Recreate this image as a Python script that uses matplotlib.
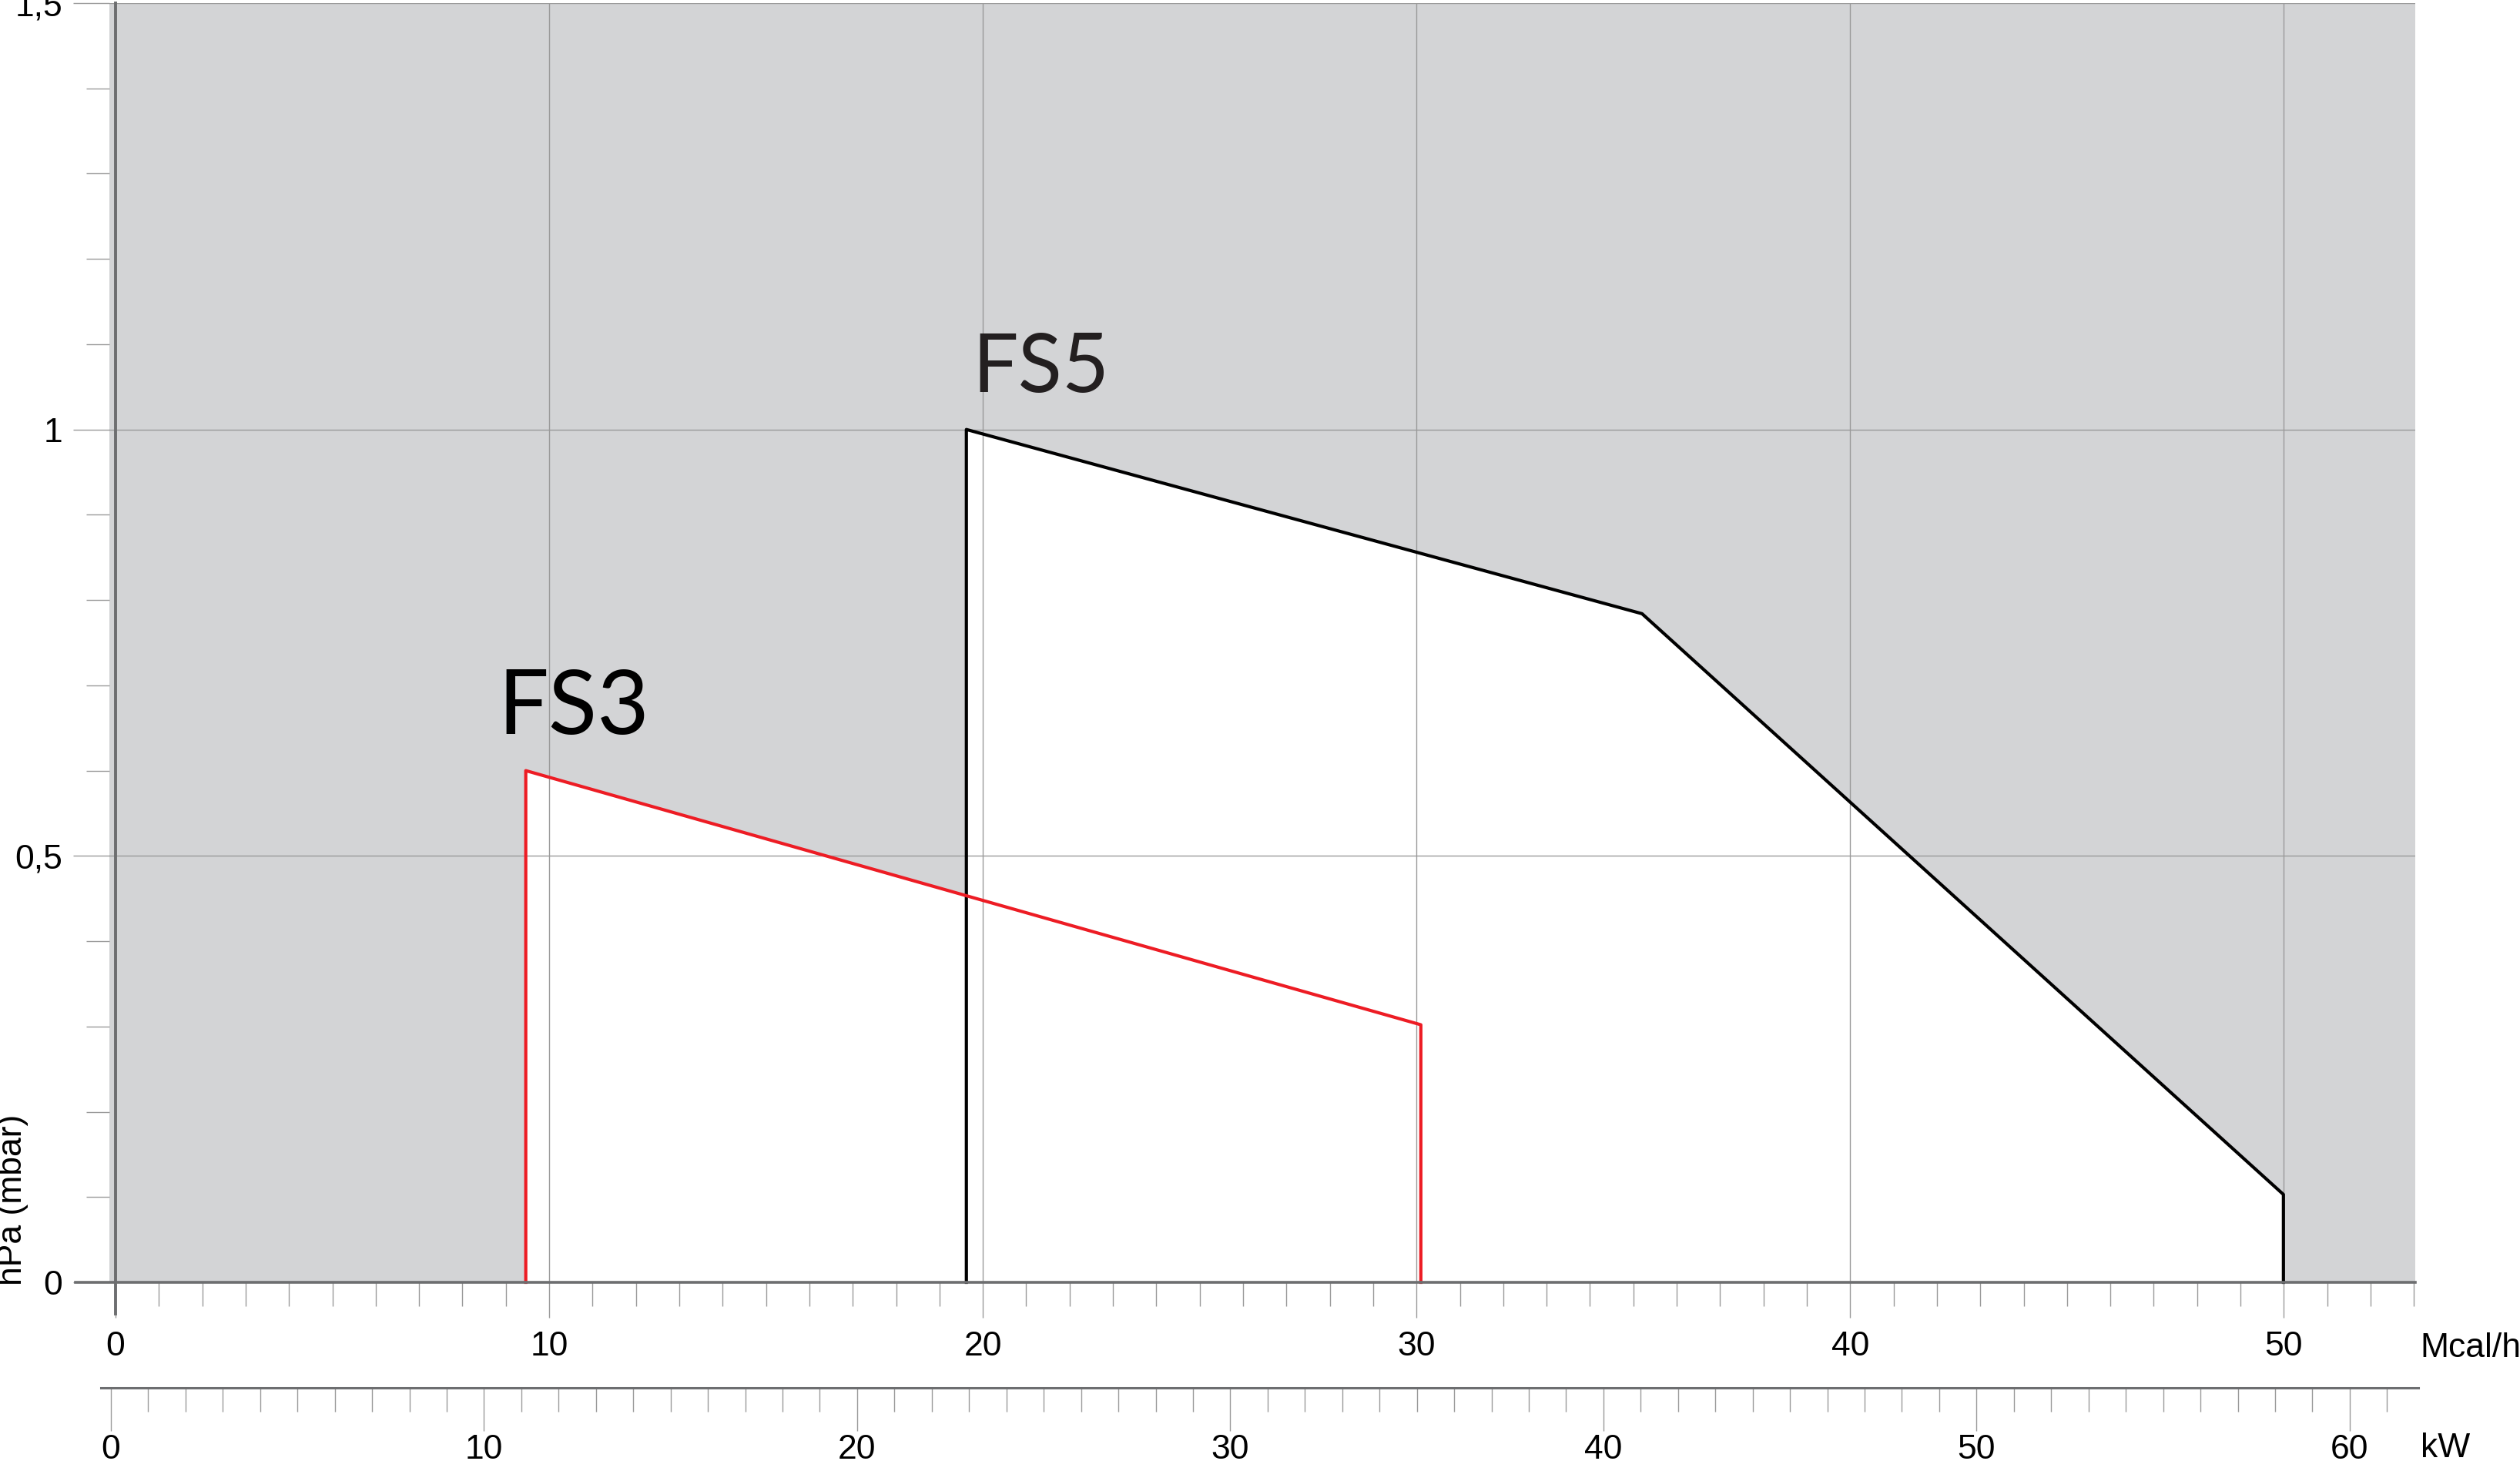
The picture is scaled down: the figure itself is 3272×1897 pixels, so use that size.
import matplotlib
matplotlib.use("Agg")
import matplotlib.pyplot as plt
from matplotlib.ticker import MultipleLocator, FuncFormatter

plt.rcParams['font.family'] = ['Liberation Sans', 'DejaVu Sans']

# working ranges of the two burners (Mcal/h against hPa)
fs3_x = [9.46, 9.46, 30.1, 30.1]
fs3_y = [0.0, 0.6, 0.302, 0.0]
fs5_x = [19.62, 19.62, 35.2, 49.99, 49.99]
fs5_y = [0.0, 1.0, 0.784, 0.103, 0.0]

mcal_ticks = [0, 10, 20, 30, 40, 50]
kw_ticks = [0, 10, 20, 30, 40, 50, 60]
p_ticks = [0, 0.5, 1.0, 1.5]

W, H = 3273, 1897
bg = '#d3d4d6'
axis_c = '#6d6e70'
grid_c = '#9a9a9a'
red = '#ed1c24'

fig = plt.figure(figsize=(W / 100, H / 100), dpi=100)

# main plot: gray area from x=142 px to 3136 px, y=4 px to 1665 px
ax = fig.add_axes([142 / W, 1 - 1665 / H, (3136 - 142) / W, (1665 - 4) / H])
ax.set_facecolor(bg)
ax.set_xlim(-0.142, 53.03)
ax.set_ylim(0, 1.5)
for s in ax.spines.values():
    s.set_visible(False)

ax.fill(fs5_x, fs5_y, color='white', zorder=1, lw=0)
ax.fill(fs3_x, fs3_y, color='white', zorder=1, lw=0)

ax.set_xticks(mcal_ticks)
ax.xaxis.set_minor_locator(MultipleLocator(1))
ax.set_yticks(p_ticks)
ax.yaxis.set_minor_locator(MultipleLocator(0.1))
ax.yaxis.set_major_formatter(FuncFormatter(lambda v, p: f"{v:g}".replace('.', ',')))

ax.set_axisbelow(False)
ax.grid(True, which='major', color=grid_c, lw=1.0)
ax.tick_params(which='both', direction='out', color=grid_c, width=1.0,
               labelsize=32, labelcolor='black')
ax.tick_params(axis='x', which='major', length=33, pad=12)
ax.tick_params(axis='x', which='minor', length=22)
ax.tick_params(axis='y', which='major', length=34, pad=10)
ax.tick_params(axis='y', which='minor', length=21.5)

ax.plot(fs5_x, fs5_y, color='black', lw=3.0, zorder=3, clip_on=False)
ax.plot(fs3_x, fs3_y, color=red, lw=3.0, zorder=4, clip_on=False)

# axis lines
ax.axhline(0, xmin=-0.0147, xmax=1, color=axis_c, lw=2.6, zorder=5, clip_on=False)
ax.axvline(0, ymin=-0.0247, ymax=1, color=axis_c, lw=2.8, zorder=5, clip_on=False)

ax.text(8.82, 0.643, 'FS3', fontsize=84, family=['Lato', 'DejaVu Sans'],
        ha='left', va='baseline', zorder=6)
ax.text(19.76, 1.044, 'FS5', fontsize=76, family=['Lato', 'DejaVu Sans'],
        color='#231f20', ha='left', va='baseline', zorder=6)

fig.text(17 / W, 1 - 1558 / H, 'hPa (mbar)', rotation=90, fontsize=32,
         ha='center', va='center')
fig.text(3142 / W, 1 - 1762 / H, 'Mcal/h', fontsize=32, ha='left', va='baseline')

# second scale in kW
axk = fig.add_axes([131 / W, 1 - 1802 / H, (3140 - 131) / W, 2 / H])
axk.set_facecolor('none')
axk.set_xlim(-0.268, 61.84)
axk.set_ylim(0, 1)
for k in ['left', 'right', 'top']:
    axk.spines[k].set_visible(False)
axk.spines['bottom'].set_color(axis_c)
axk.spines['bottom'].set_linewidth(2.2)
axk.set_yticks([])
axk.set_xticks(kw_ticks)
axk.xaxis.set_minor_locator(MultipleLocator(1))
axk.tick_params(which='both', direction='out', color=grid_c, width=1.0,
                labelsize=32, labelcolor='black')
axk.tick_params(which='major', length=40, pad=3)
axk.tick_params(which='minor', length=22)

fig.text(3143 / W, 1 - 1860 / H, 'kW', fontsize=32, ha='left', va='top')

fig.savefig('out.png', dpi=100)
